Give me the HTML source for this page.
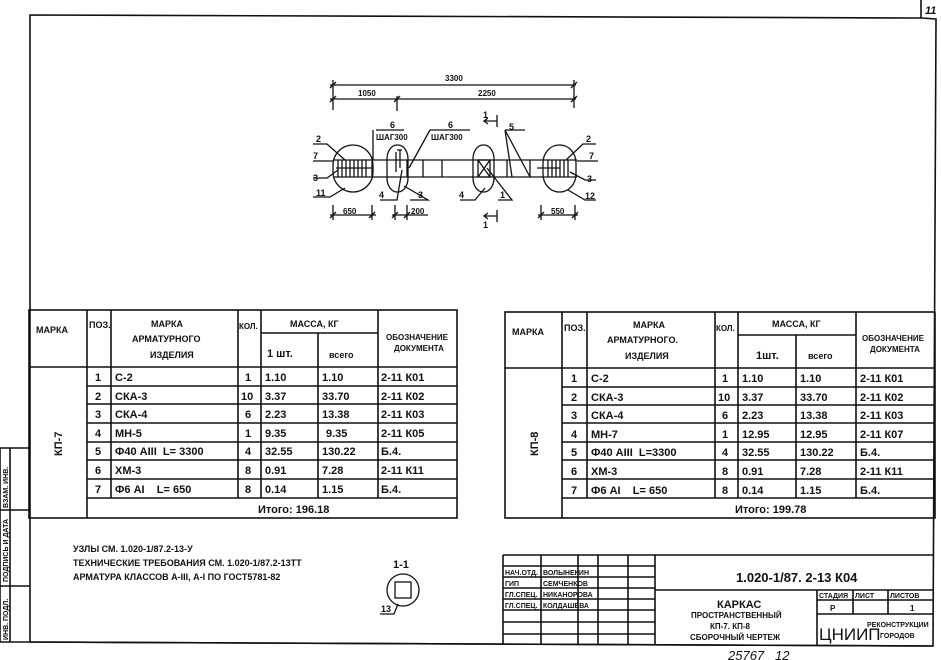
<!DOCTYPE html>
<html><head><meta charset="utf-8"><style>
html,body{margin:0;padding:0;background:#fff;}
svg{display:block;}
text{font-family:"Liberation Sans","DejaVu Sans",sans-serif;fill:#111;font-weight:bold;}
.t{font-size:11px;}
.s{font-size:8px;}
.h{font-size:9px;}
</style></head><body>
<svg width="941" height="660" viewBox="0 0 941 660" xmlns="http://www.w3.org/2000/svg">
<g stroke="#111" fill="none" stroke-width="1.6">
<!-- frame -->
<path d="M30 642 L30 15 L921 18 L936 19 L933 646 Z"/>
<line x1="921" y1="0" x2="921" y2="18"/>
<line x1="30" y1="642" x2="933" y2="646"/>
<!-- side strip -->
<path d="M0 448 L30 448 M0 448 L0 642 L30 642 M0 510 L30 510 M0 586 L30 586 M10 448 L10 642"/>

<!-- LEFT TABLE -->
<rect x="29" y="310" width="428" height="208"/>
<line x1="87" y1="310" x2="87" y2="518"/>
<line x1="111" y1="310" x2="111" y2="498"/>
<line x1="238" y1="310" x2="238" y2="498"/>
<line x1="261" y1="310" x2="261" y2="498"/>
<line x1="318" y1="333" x2="318" y2="498"/>
<line x1="378" y1="310" x2="378" y2="498"/>
<line x1="261" y1="333" x2="378" y2="333"/>
<line x1="29" y1="367" x2="457" y2="367"/>
<line x1="87" y1="386" x2="457" y2="386"/>
<line x1="87" y1="404" x2="457" y2="404"/>
<line x1="87" y1="423" x2="457" y2="423"/>
<line x1="87" y1="442" x2="457" y2="442"/>
<line x1="87" y1="460" x2="457" y2="460"/>
<line x1="87" y1="479" x2="457" y2="479"/>
<line x1="87" y1="498" x2="457" y2="498"/>

<!-- RIGHT TABLE -->
<rect x="505" y="312" width="430" height="206"/>
<line x1="562" y1="312" x2="562" y2="518"/>
<line x1="587" y1="312" x2="587" y2="498"/>
<line x1="715" y1="312" x2="715" y2="498"/>
<line x1="738" y1="312" x2="738" y2="498"/>
<line x1="796" y1="335" x2="796" y2="498"/>
<line x1="856" y1="312" x2="856" y2="498"/>
<line x1="738" y1="335" x2="856" y2="335"/>
<line x1="505" y1="368" x2="935" y2="368"/>
<line x1="562" y1="387" x2="935" y2="387"/>
<line x1="562" y1="405" x2="935" y2="405"/>
<line x1="562" y1="423" x2="935" y2="423"/>
<line x1="562" y1="442" x2="935" y2="442"/>
<line x1="562" y1="460" x2="935" y2="460"/>
<line x1="562" y1="479" x2="935" y2="479"/>
<line x1="562" y1="498" x2="935" y2="498"/>

<!-- TITLE BLOCK -->
<line x1="503" y1="555" x2="933" y2="555"/>
<line x1="503" y1="555" x2="503" y2="645"/>
<line x1="541" y1="555" x2="541" y2="645"/>
<line x1="578" y1="555" x2="578" y2="645"/>
<line x1="598" y1="555" x2="598" y2="645"/>
<line x1="628" y1="555" x2="628" y2="645"/>
<line x1="655" y1="555" x2="655" y2="645"/>
<path d="M503 566 H655 M503 577 H655 M503 588 H655 M503 599 H655 M503 610 H655 M503 622 H655 M503 634 H655"/>
<line x1="655" y1="590" x2="933" y2="590"/>
<line x1="817" y1="590" x2="817" y2="645"/>
<line x1="817" y1="600" x2="933" y2="600"/>
<line x1="817" y1="614" x2="933" y2="614"/>
<line x1="853" y1="590" x2="853" y2="614"/>
<line x1="888" y1="590" x2="888" y2="614"/>
</g>

<!-- DRAWING -->
<g stroke="#111" fill="none" stroke-width="1.3">
<line x1="330" y1="85" x2="576" y2="85"/>
<line x1="330" y1="99" x2="576" y2="99"/>
<line x1="333" y1="80" x2="333" y2="110"/>
<line x1="574" y1="80" x2="574" y2="108"/>
<line x1="397" y1="96" x2="397" y2="111"/>
<path d="M330 88 L336 82 M571 88 L577 82 M330 102 L336 96 M394 102 L400 96 M571 102 L577 96"/>
<!-- beam -->
<line x1="333" y1="160" x2="577" y2="160"/>
<line x1="333" y1="177" x2="577" y2="177"/>
<rect x="333" y="145" width="40" height="47" rx="20" ry="20"/>
<rect x="387" y="145" width="21" height="47" rx="10" ry="14"/>
<rect x="473" y="145" width="21" height="47" rx="10" ry="14"/>
<rect x="543" y="145" width="33" height="47" rx="16" ry="18"/>
<path d="M338 160V177 M342 160V177 M346 160V177 M350 160V177 M354 160V177 M358 160V177 M362 160V177 M366 160V177"/>
<path d="M548 160V177 M552 160V177 M556 160V177 M560 160V177 M564 160V177 M568 160V177"/>
<path d="M336 168 H372 M537 168 H560"/>
<path d="M372 160V177 M407 160V177 M423 160V177 M442 160V177 M507 160V177 M530 160V177"/>
<path d="M396 152 V172 M400 150 V168 M397 150 H402"/>
<path d="M478 160 L490 177 M490 160 L478 177 M478 160 H490 V177 H478 Z"/>
<!-- leaders -->
<path d="M313 144 H327 L345 160 M313 161 H333 M313 178 H327 L338 170 M313 197 H330 L345 188"/>
<path d="M596 144 H583 L566 160 M598 161 H577 M596 180 H585 L570 172 M596 200 H585 L568 190"/>
<path d="M376 130 H404 M373 130 L373 160 M430 130 H470 M430 130 L409 168"/>
<path d="M380 200 L397 200 L402 170 M410 200 H428 L404 186 M460 200 H475 L485 188 M498 200 H512 L487 168"/>
<path d="M505 130 H525 M505 130 L530 177 M505 130 L512 177"/>
<path d="M484 121 H497 M497 115 V127 M488 118 L484 121 L488 124 M484 216 H497 M497 210 V222 M488 213 L484 216 L488 219"/>
<!-- bottom dims -->
<path d="M333 205V220 M372 205V220 M330 215 H376 M330 218 L336 212 M369 218 L375 212"/>
<path d="M395 205V220 M407 205V220 M392 215 H428 M392 218 L398 212 M404 218 L410 212"/>
<path d="M541 205V220 M575 205V220 M538 215 H578 M538 218 L544 212 M572 218 L578 212"/>
<!-- section 1-1 -->
<circle cx="403" cy="590" r="16"/>
<rect x="395" y="582" width="16" height="16"/>
<path d="M380 614 H394 L398 604"/>
</g>
<g class="s">
<text x="445" y="81">3300</text>
<text x="358" y="96">1050</text>
<text x="478" y="96">2250</text>
<text x="390" y="128" class="h">6</text>
<text x="448" y="128" class="h">6</text>
<text x="376" y="140">ШАГ300</text>
<text x="431" y="140">ШАГ300</text>
<text x="483" y="118" class="h">1</text>
<text x="483" y="228" class="h">1</text>
<text x="509" y="130" class="h">5</text>
<text x="316" y="142" class="h">2</text>
<text x="313" y="159" class="h">7</text>
<text x="313" y="181" class="h">3</text>
<text x="316" y="196" class="h">11</text>
<text x="586" y="142" class="h">2</text>
<text x="589" y="159" class="h">7</text>
<text x="587" y="182" class="h">3</text>
<text x="585" y="199" class="h">12</text>
<text x="379" y="198" class="h">4</text>
<text x="418" y="198" class="h">3</text>
<text x="459" y="198" class="h">4</text>
<text x="500" y="198" class="h">1</text>
<text x="343" y="214">650</text>
<text x="411" y="214">200</text>
<text x="551" y="214">550</text>
</g>

<!-- side strip text -->
<g class="s" style="font-size:7px">
<text transform="translate(8,640) rotate(-90)">ИНВ. ПОДЛ.</text>
<text transform="translate(8,582) rotate(-90)">ПОДПИСЬ И ДАТА</text>
<text transform="translate(8,508) rotate(-90)">ВЗАМ. ИНВ.</text>
</g>

<!-- left table text -->
<g class="h">
<text x="36" y="333">МАРКА</text>
<text x="89" y="328">ПОЗ.</text>
<text x="151" y="327">МАРКА</text>
<text x="132" y="342">АРМАТУРНОГО</text>
<text x="150" y="358">ИЗДЕЛИЯ</text>
<text x="239" y="329" style="font-size:8px">КОЛ.</text>
<text x="290" y="327">МАССА, КГ</text>
<text x="267" y="357" class="t">1 шт.</text>
<text x="329" y="358">всего</text>
<text x="386" y="340" style="font-size:8px">ОБОЗНАЧЕНИЕ</text>
<text x="394" y="351" style="font-size:8px">ДОКУМЕНТА</text>
</g>
<text class="t" transform="translate(62,456) rotate(-90)">КП-7</text>
<g class="t">
<text x="95" y="381">1</text><text x="115" y="381">С-2</text><text x="245" y="381">1</text><text x="265" y="381">1.10</text><text x="322" y="381">1.10</text><text x="381" y="381">2-11 К01</text>
<text x="95" y="400">2</text><text x="115" y="400">СКА-3</text><text x="241" y="400">10</text><text x="265" y="400">3.37</text><text x="322" y="400">33.70</text><text x="381" y="400">2-11 К02</text>
<text x="95" y="418">3</text><text x="115" y="418">СКА-4</text><text x="245" y="418">6</text><text x="265" y="418">2.23</text><text x="322" y="418">13.38</text><text x="381" y="418">2-11 К03</text>
<text x="95" y="437">4</text><text x="115" y="437">МН-5</text><text x="245" y="437">1</text><text x="265" y="437">9.35</text><text x="326" y="437">9.35</text><text x="381" y="437">2-11 К05</text>
<text x="95" y="455">5</text><text x="115" y="455">Ф40 АIII&#160;&#160;L= 3300</text><text x="245" y="455">4</text><text x="265" y="455">32.55</text><text x="322" y="455">130.22</text><text x="381" y="455">Б.4.</text>
<text x="95" y="474">6</text><text x="115" y="474">ХМ-3</text><text x="245" y="474">8</text><text x="265" y="474">0.91</text><text x="322" y="474">7.28</text><text x="381" y="474">2-11 К11</text>
<text x="95" y="493">7</text><text x="115" y="493">Ф6 АI&#160;&#160;&#160;&#160;L= 650</text><text x="245" y="493">8</text><text x="265" y="493">0.14</text><text x="322" y="493">1.15</text><text x="381" y="493">Б.4.</text>
<text x="258" y="513">Итого: 196.18</text>
</g>

<!-- right table text -->
<g class="h">
<text x="512" y="335">МАРКА</text>
<text x="564" y="331">ПОЗ.</text>
<text x="633" y="328">МАРКА</text>
<text x="607" y="343">АРМАТУРНОГО.</text>
<text x="625" y="359">ИЗДЕЛИЯ</text>
<text x="716" y="331" style="font-size:8px">КОЛ.</text>
<text x="772" y="327">МАССА, КГ</text>
<text x="756" y="359" class="t">1шт.</text>
<text x="808" y="359">всего</text>
<text x="862" y="341" style="font-size:8px">ОБОЗНАЧЕНИЕ</text>
<text x="870" y="352" style="font-size:8px">ДОКУМЕНТА</text>
</g>
<text class="t" transform="translate(538,456) rotate(-90)">КП-8</text>
<g class="t">
<text x="571" y="382">1</text><text x="591" y="382">С-2</text><text x="722" y="382">1</text><text x="742" y="382">1.10</text><text x="800" y="382">1.10</text><text x="860" y="382">2-11 К01</text>
<text x="571" y="401">2</text><text x="591" y="401">СКА-3</text><text x="718" y="401">10</text><text x="742" y="401">3.37</text><text x="800" y="401">33.70</text><text x="860" y="401">2-11 К02</text>
<text x="571" y="419">3</text><text x="591" y="419">СКА-4</text><text x="722" y="419">6</text><text x="742" y="419">2.23</text><text x="800" y="419">13.38</text><text x="860" y="419">2-11 К03</text>
<text x="571" y="438">4</text><text x="591" y="438">МН-7</text><text x="722" y="438">1</text><text x="742" y="438">12.95</text><text x="800" y="438">12.95</text><text x="860" y="438">2-11 К07</text>
<text x="571" y="456">5</text><text x="591" y="456">Ф40 АIII&#160;&#160;L=3300</text><text x="722" y="456">4</text><text x="742" y="456">32.55</text><text x="800" y="456">130.22</text><text x="860" y="456">Б.4.</text>
<text x="571" y="475">6</text><text x="591" y="475">ХМ-3</text><text x="722" y="475">8</text><text x="742" y="475">0.91</text><text x="800" y="475">7.28</text><text x="860" y="475">2-11 К11</text>
<text x="571" y="494">7</text><text x="591" y="494">Ф6 АI&#160;&#160;&#160;&#160;L= 650</text><text x="722" y="494">8</text><text x="742" y="494">0.14</text><text x="800" y="494">1.15</text><text x="860" y="494">Б.4.</text>
<text x="735" y="513">Итого: 199.78</text>
</g>

<!-- notes -->
<g class="h">
<text x="73" y="552">УЗЛЫ СМ. 1.020-1/87.2-13-У</text>
<text x="73" y="566">ТЕХНИЧЕСКИЕ ТРЕБОВАНИЯ СМ. 1.020-1/87.2-13ТТ</text>
<text x="73" y="580">АРМАТУРА КЛАССОВ А-III, А-I ПО ГОСТ5781-82</text>
<text x="393" y="568" class="t">1-1</text>
<text x="381" y="612">13</text>
</g>

<!-- title block text -->
<g style="font-size:7px">
<text x="505" y="575">НАЧ.ОТД.</text><text x="543" y="575">ВОЛЫНЕКИН</text>
<text x="505" y="586">ГИП</text><text x="543" y="586">СЕМЧЕНКОВ</text>
<text x="505" y="597">ГЛ.СПЕЦ.</text><text x="543" y="597">НИКАНОРОВА</text>
<text x="505" y="608">ГЛ.СПЕЦ.</text><text x="543" y="608">КОЛДАШЕВА</text>
<text x="819" y="598">СТАДИЯ</text><text x="855" y="598">ЛИСТ</text><text x="890" y="598">ЛИСТОВ</text>
<text x="867" y="627">РЕКОНСТРУКЦИИ</text><text x="880" y="638">ГОРОДОВ</text>
</g>
<g style="font-size:8px">
<text x="830" y="611">Р</text><text x="910" y="611">1</text>
</g>
<text x="736" y="582" class="t" style="font-size:13px">1.020-1/87. 2-13 К04</text>
<text x="717" y="608" class="t">КАРКАС</text>
<g style="font-size:8px">
<text x="691" y="618">ПРОСТРАНСТВЕННЫЙ</text>
<text x="710" y="629">КП-7. КП-8</text>
<text x="690" y="640">СБОРОЧНЫЙ ЧЕРТЕЖ</text>
</g>
<text x="819" y="640" style="font-size:17px;font-weight:normal">ЦНИИП</text>
<text x="925" y="14" style="font-size:11px;font-style:italic">11</text>
<text x="728" y="660" style="font-size:13px;font-style:italic;font-weight:normal">25767&#160;&#160;&#160;12</text>
</svg>
</body></html>
